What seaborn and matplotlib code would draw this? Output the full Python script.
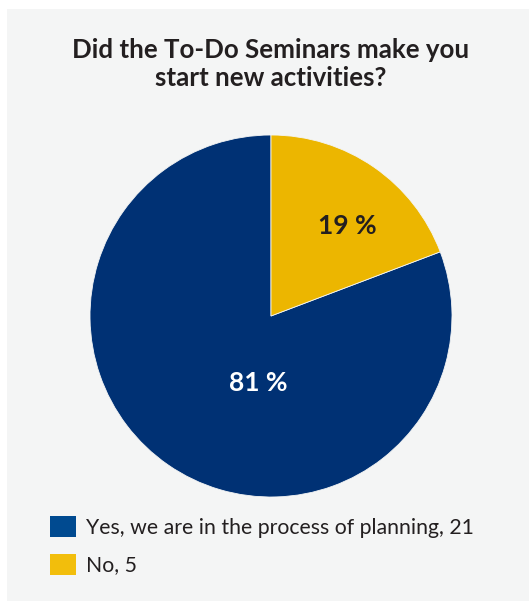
import matplotlib.pyplot as plt
from matplotlib.patches import Patch, Rectangle
import seaborn as sns

# survey answers
answers = ['Yes, we are in the process of planning', 'No']
counts = [21, 5]
pie_colors = ['#003174', '#ecb600']
legend_colors = ['#004a90', '#f2be0c']
title = 'Did the To-Do Seminars make you\nstart new activities?'

sns.set_style('white')
plt.rcParams['font.family'] = ['Lato', 'DejaVu Sans']

fig = plt.figure(figsize=(5.29, 6.01), dpi=100)
fig.patches.append(Rectangle((7 / 529, 0), 1, (601 - 9) / 601, transform=fig.transFigure,
                             facecolor='#f4f5f5', edgecolor='none', zorder=-5))

# pie axes: centre (271, 316) px, radius 181 px
W, H = 529, 601
cx, cy, r = 271, 316, 181
ax = fig.add_axes([(cx - r) / W, (H - cy - r) / H, 2 * r / W, 2 * r / H], zorder=2)
wedges, _ = ax.pie(counts, colors=pie_colors, startangle=90, counterclock=True,
                   wedgeprops=dict(edgecolor='#f4f5f5', linewidth=0.6))
ax.set_xlim(-1, 1)
ax.set_ylim(-1, 1)
ax.set_aspect('equal')
ax.axis('off')

total = sum(counts)
label_xy = [(-0.07, -0.37), (0.42, 0.50)]
label_colors = ['white', '#231f20']
for (x, y), c, col in zip(label_xy, counts, label_colors):
    ax.text(x, y, f'{c / total:.0%}'.replace('%', ' %'), ha='center', va='center',
            fontsize=19, fontweight='bold', color=col)

fig.text(271 / W, 1 - 64 / H, title, ha='center', va='center', fontsize=18.6,
         fontweight='bold', color='#231f20', linespacing=1.2)

handles = [Patch(facecolor=c, edgecolor='none') for c in legend_colors]
labels = [f'{a}, {c}' for a, c in zip(answers, counts)]
fig.legend(handles, labels, loc='upper left', bbox_to_anchor=(31 / W, 1 - 497 / H),
           frameon=False, fontsize=15.3, handlelength=1.2, handleheight=1.15,
           handletextpad=0.5, labelspacing=0.75, labelcolor='#231f20')

plt.savefig('out.png', dpi=100)
